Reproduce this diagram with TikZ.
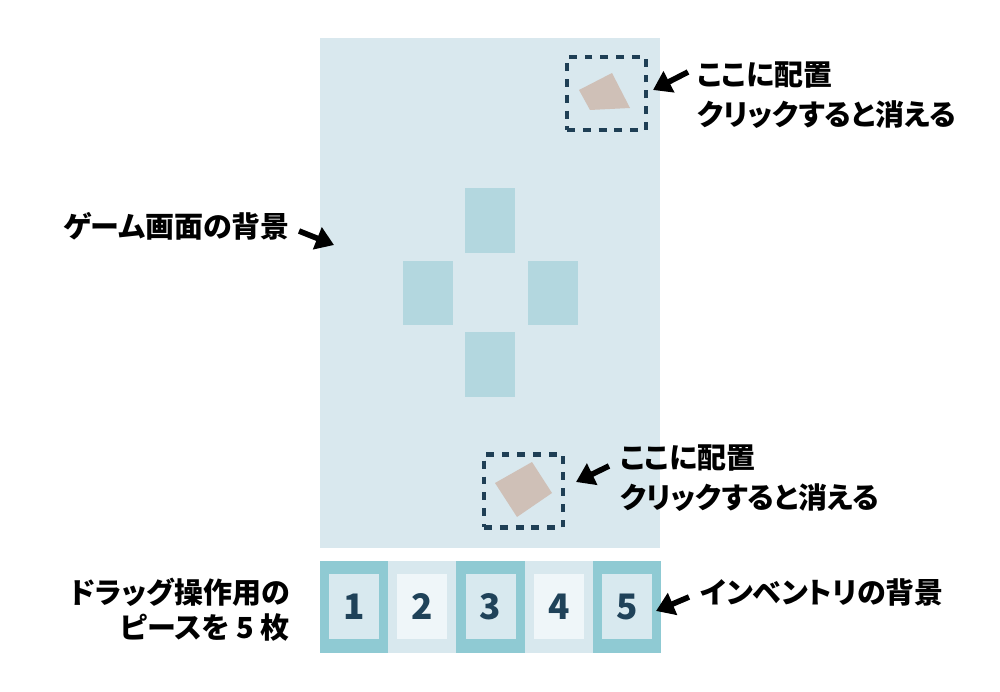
\documentclass[tikz,border=0pt]{standalone}
\usepackage{fontspec}
\usetikzlibrary{arrows.meta}
\newfontfamily\jpfont[RawFeature=+palt]{Noto Sans CJK JP}
\definecolor{boardBg}{HTML}{D9E8EE}
\definecolor{dropZone}{HTML}{B3D7DF}
\definecolor{invDark}{HTML}{8FCAD3}
\definecolor{invLight}{HTML}{D8E8EE}
\definecolor{cellDark}{HTML}{D8E9EF}
\definecolor{cellLight}{HTML}{EFF6F9}
\definecolor{numInk}{HTML}{1F4259}
\definecolor{slotInk}{HTML}{1F3F55}
\definecolor{pieceFill}{HTML}{CFC0B7}
\tikzset{
  note/.style={font=\jpfont\bfseries\fontsize{16.5}{22.7}\selectfont, inner sep=0pt},
  callout/.style={line width=3.2pt, -{Triangle[length=0.36cm,width=0.46cm]}},
  slot/.style={draw=slotInk, line width=2.3pt, dash pattern=on 4.5pt off 4.5pt,
    minimum width=1.58cm, minimum height=1.46cm, inner sep=0pt},
  zone/.style={fill=dropZone, minimum width=1cm, minimum height=1.3cm, inner sep=0pt},
  cellnum/.style={font=\jpfont\bfseries\fontsize{20}{22}\selectfont, text=numInk,
    minimum width=1cm, minimum height=1.3cm, inner sep=0pt}
}
\begin{document}
\begin{tikzpicture}[x=0.02cm, y=-0.02cm]
\useasboundingbox (0,0) rectangle (1000,692);

% game screen
\fill [boardBg] (320,38) rectangle (660,548);
\node [zone] (zoneN) at (490,220.5) {};
\node [zone] (zoneW) at (428,293) {};
\node [zone] (zoneE) at (553,293) {};
\node [zone] (zoneS) at (490,364.5) {};

% placed pieces
\node [slot] (slotA) at (606.5,93.5) {};
\fill [pieceFill] (579,90)--(612,73)--(630,108)--(590,110)--cycle;
\node [slot] (slotB) at (523.5,491) {};
\fill [pieceFill] (495,483)--(532,462)--(552,493)--(517,517)--cycle;

% inventory
\foreach \i/\outer/\inner in {1/invDark/cellDark,2/invLight/cellLight,3/invDark/cellDark,4/invLight/cellLight,5/invDark/cellDark}{
  \fill [\outer] ({320+(\i-1)*68.2},561) rectangle ({320+\i*68.2},653);
  \node [cellnum, fill=\inner] (cell\i) at ({354.1+(\i-1)*68.2},606.5) {\i};
}

% labels
\node [note, anchor=west, align=left] (lblA) at (697,95) {ここに配置\\クリックすると消える};
\node [note, anchor=west, align=left] (lblB) at (620,478) {ここに配置\\クリックすると消える};
\node [note, anchor=east] (lblGame) at (290,226) {ゲーム画面の背景};
\node [note, anchor=east, align=right, font=\jpfont\bfseries\fontsize{16.5}{19.9}\selectfont] (lblPiece) at (290,609.5) {ドラッグ操作用の\\ピースを 5 枚};
\node [note, anchor=west] (lblInv) at (700,592) {インベントリの背景};

\coordinate (tailA) at (688,72);   \coordinate (tipA) at (653,90);
\coordinate (tailB) at (609,466);  \coordinate (tipB) at (576,482);
\coordinate (tailG) at (299,231);  \coordinate (tipG) at (334,245);
\coordinate (tailI) at (689,597);  \coordinate (tipI) at (656,611);
\draw [callout] (tailA) -- (tipA);
\draw [callout] (tailB) -- (tipB);
\draw [callout] (tailG) -- (tipG);
\draw [callout] (tailI) -- (tipI);
\end{tikzpicture}
\end{document}
